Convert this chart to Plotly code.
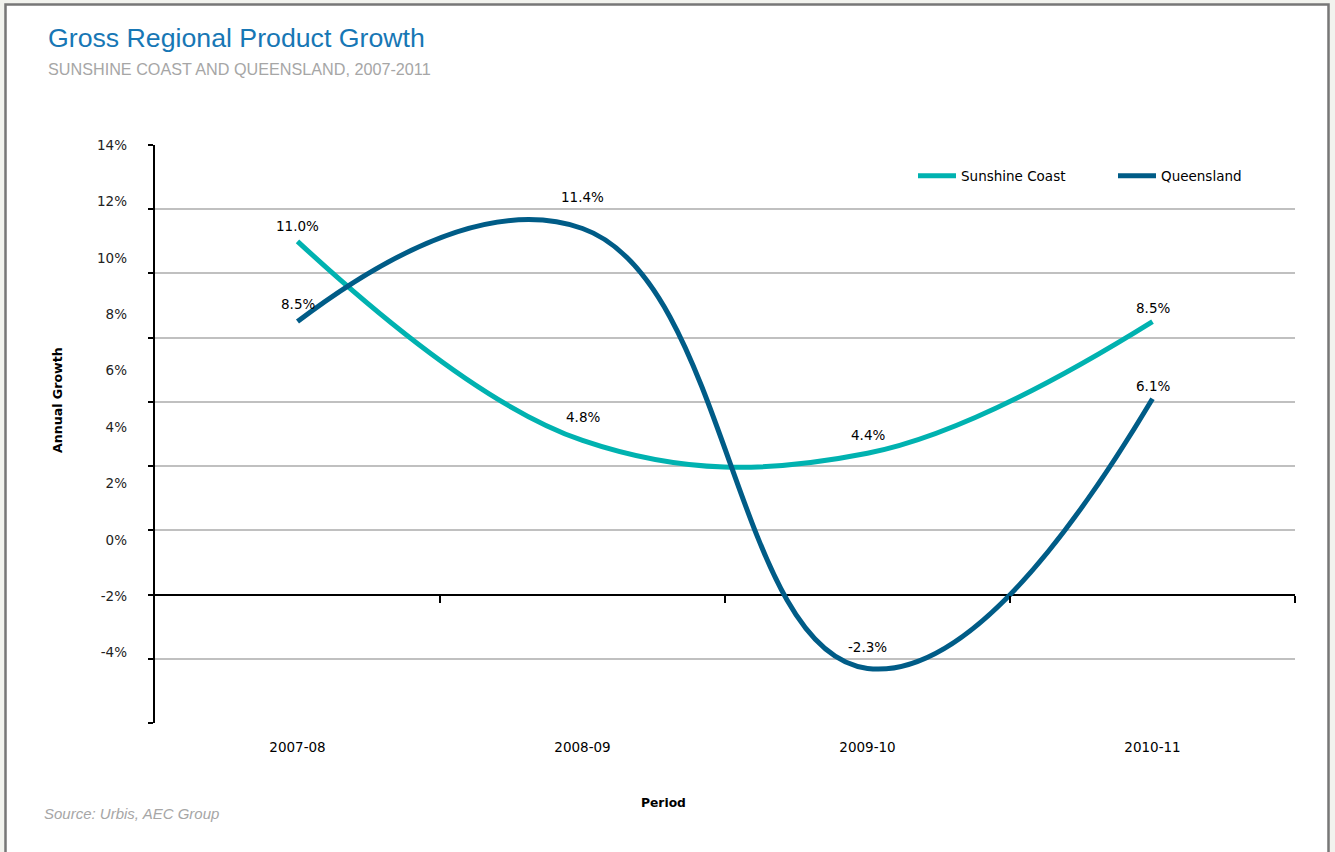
import plotly.graph_objects as go

# ---- data ----
periods = ["2007-08", "2008-09", "2009-10", "2010-11"]
sunshine_coast = [11.0, 4.8, 4.4, 8.5]
queensland = [8.5, 11.4, -2.3, 6.1]

y_tick_labels = ["14%", "12%", "10%", "8%", "6%", "4%", "2%", "0%", "-2%", "-4%"]

# ---- styling / positions (not data) ----
Y_MIN, Y_MAX = -4, 14
label_pos = [14.0, 12.24, 10.48, 8.73, 6.97, 5.21, 3.46, 1.70, -0.05, -1.81]
sc_shift = [15, 23, 18, 14]
qld_shift = [18, 31, 21, 13]
SC_COLOR = "#00B2B0"
QLD_COLOR = "#005C87"
FONT = "DejaVu Sans"
FS = 13.5

fig = go.Figure()
fig.add_trace(go.Scatter(x=periods, y=sunshine_coast, name="Sunshine Coast", mode="lines",
                         line=dict(color=SC_COLOR, width=5, shape="spline", smoothing=1.1)))
fig.add_trace(go.Scatter(x=periods, y=queensland, name="Queensland", mode="lines",
                         line=dict(color=QLD_COLOR, width=5, shape="spline", smoothing=1.3)))
# helper (empty) traces so the overlay axes exist
fig.add_trace(go.Scatter(x=[None], y=[None], xaxis="x2", yaxis="y", showlegend=False, hoverinfo="skip"))
fig.add_trace(go.Scatter(x=[None], y=[None], xaxis="x", yaxis="y2", showlegend=False, hoverinfo="skip"))

annotations = []
for xs, ys, shifts in ((periods, sunshine_coast, sc_shift), (periods, queensland, qld_shift)):
    for x, v, s in zip(xs, ys, shifts):
        annotations.append(dict(x=x, y=v, xref="x", yref="y", text=f"{v:.1f}%", showarrow=False,
                                yshift=s, font=dict(family=FONT, size=FS, color="#000000")))

W, H = 1335, 852
ML, MR, MT, MB = 155, 40, 145, 129
PW, PH = W - ML - MR, H - MT - MB

def px(xp):
    return (xp - ML) / PW

def py(yp):
    return (H - MB - yp) / PH

annotations += [
    dict(text="Gross Regional Product Growth", x=px(46), y=py(38), xref="paper", yref="paper",
         xanchor="left", yanchor="middle", showarrow=False,
         font=dict(family="Liberation Sans", size=26.7, color="#1777B5")),
    dict(text="SUNSHINE COAST AND QUEENSLAND, 2007-2011", x=px(46), y=py(69), xref="paper", yref="paper",
         xanchor="left", yanchor="middle", showarrow=False,
         font=dict(family="Liberation Sans", size=16.2, color="#A6A6A6")),
    dict(text="<i>Source: Urbis, AEC Group</i>", x=px(42), y=py(813), xref="paper", yref="paper",
         xanchor="left", yanchor="middle", showarrow=False,
         font=dict(family="Liberation Sans", size=15, color="#A6A6A6")),
    dict(text="<b>Annual Growth</b>", x=px(57), y=py(400), xref="paper", yref="paper",
         xanchor="center", yanchor="middle", textangle=-90, showarrow=False,
         font=dict(family=FONT, size=12.6, color="#000000")),
    dict(text="<b>Period</b>", x=px(663), y=py(803), xref="paper", yref="paper",
         xanchor="center", yanchor="middle", showarrow=False,
         font=dict(family=FONT, size=12.3, color="#000000")),
]

shapes = [
    dict(type="rect", xref="paper", yref="paper", x0=px(5.5), x1=px(1328.5), y0=py(880), y1=py(4.5),
         fillcolor="#FFFFFF", line=dict(color="#777777", width=2.5), layer="below"),
]

fig.update_layout(
    width=W, height=H, autosize=False,
    margin=dict(l=ML, r=MR, t=MT, b=MB, pad=0),
    paper_bgcolor="#F2F3EE", plot_bgcolor="rgba(0,0,0,0)",
    font=dict(family=FONT, size=FS, color="#000000"),
    showlegend=True,
    legend=dict(orientation="h", x=px(913), xanchor="left", y=py(176), yanchor="middle",
                bgcolor="rgba(0,0,0,0)", font=dict(family=FONT, size=FS, color="#000000"),
                itemwidth=38, entrywidth=147, entrywidthmode="pixels"),
    xaxis=dict(type="category", range=[-0.5, len(periods) - 0.5], showgrid=False, showline=False,
               zeroline=False, ticks="", tickfont=dict(family=FONT, size=FS, color="#000000"),
               ticklabelstandoff=14, fixedrange=True),
    xaxis2=dict(overlaying="x", anchor="free", side="bottom",
                position=(0 - Y_MIN) / (Y_MAX - Y_MIN), type="linear",
                range=[-0.5, len(periods) - 0.5],
                tickvals=[i + 0.5 for i in range(len(periods))], showticklabels=False,
                ticks="outside", ticklen=7, tickwidth=2, tickcolor="#000000",
                showgrid=False, showline=False, zeroline=False),
    yaxis=dict(range=[Y_MIN, Y_MAX], dtick=2, tick0=0, showgrid=True, gridcolor="#C0C0C0", gridwidth=2,
               showline=True, linecolor="#000000", linewidth=2, mirror=False,
               ticks="outside", ticklen=5, tickwidth=2, tickcolor="#000000",
               showticklabels=False, zeroline=True, zerolinecolor="#000000", zerolinewidth=2),
    yaxis2=dict(overlaying="y", side="left", anchor="x", range=[Y_MIN, Y_MAX],
                tickvals=label_pos, ticktext=y_tick_labels, showgrid=False, zeroline=False,
                showline=False, ticks="", ticklabelstandoff=27,
                tickfont=dict(family=FONT, size=FS, color="#222222")),
    annotations=annotations,
    shapes=shapes,
)

fig.write_html("out.html")
